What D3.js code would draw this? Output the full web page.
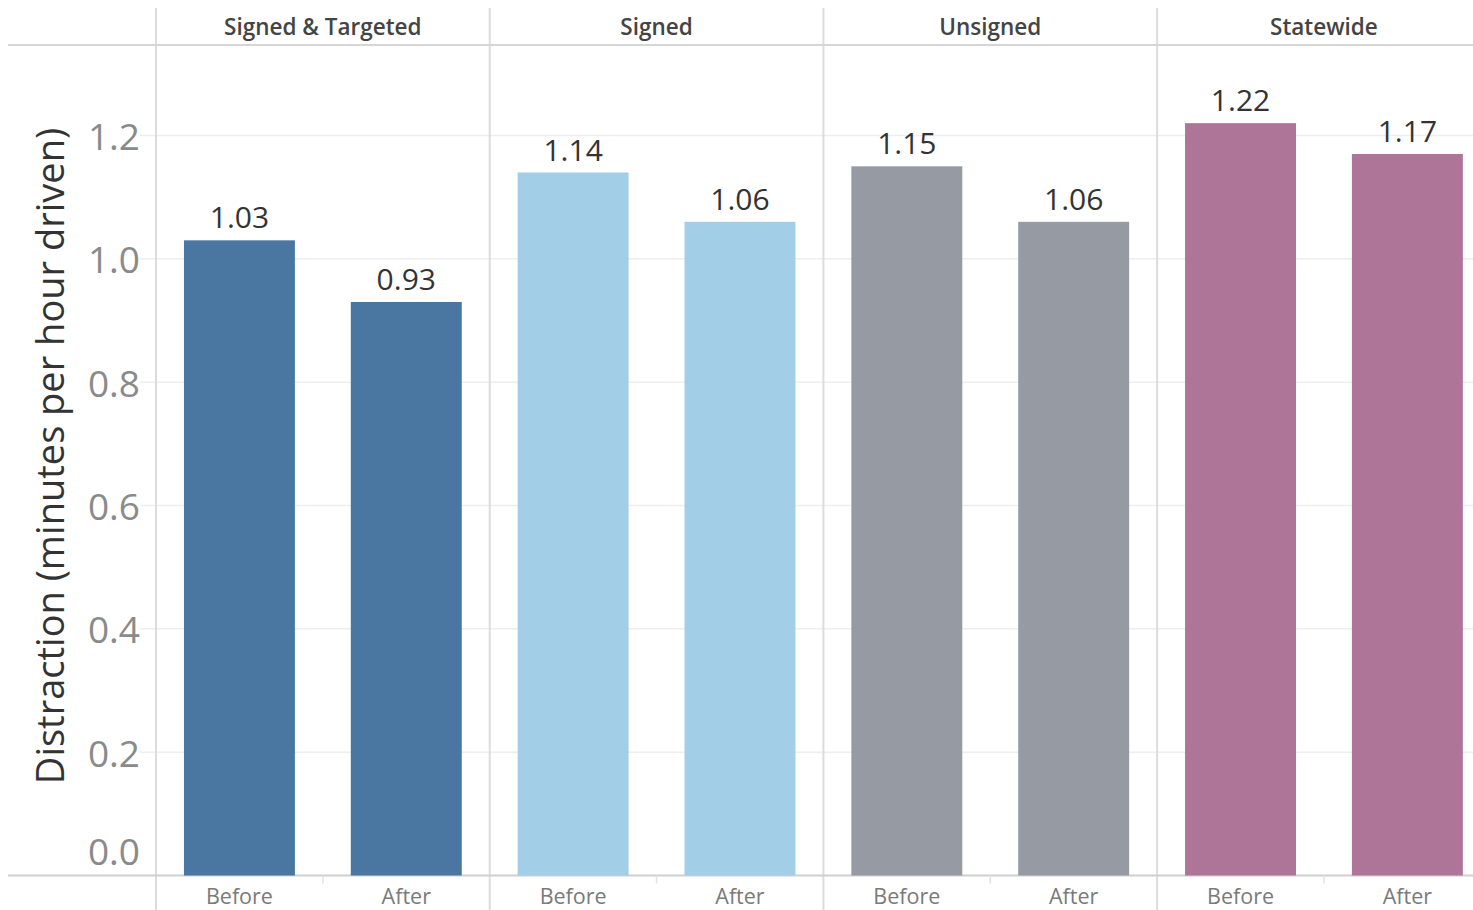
<html>
<head>
<title>Distraction before and after</title>
<script src="https://d3js.org/d3.v7.min.js"></script>
<style>
  body { margin: 0; background: #fff; }
  text { font-family: "Open Sans", sans-serif; }
</style>
</head>
<body>
<svg id="chart" width="1473" height="910"></svg>
<script>
// data
var groups = ["Signed & Targeted", "Signed", "Unsigned", "Statewide"];
var periods = ["Before", "After"];
var before = [1.03, 1.14, 1.15, 1.22];
var after = [0.93, 1.06, 1.06, 1.17];
var colors = ["#4a77a2", "#a3cee8", "#969ba3", "#ae7599"];
var yTicks = [0, 0.2, 0.4, 0.6, 0.8, 1.0, 1.2];

var rows = [];
groups.forEach(function (g, i) {
  rows.push({group: g, period: "Before", value: before[i], color: colors[i]});
  rows.push({group: g, period: "After", value: after[i], color: colors[i]});
});

var svg = d3.select("#chart");
var plotLeft = 156, headerY = 45, base = 875.5;

var x0 = d3.scaleBand().domain(groups).range([plotLeft, plotLeft + 4 * 333.7]);
var x1 = d3.scaleBand().domain(periods).range([0, x0.bandwidth()]).paddingInner(0.335).paddingOuter(0.1675);
var y = d3.scaleLinear().domain([0, 1.2]).range([base, base - 740]);

// gridlines
svg.append("g").selectAll("line")
  .data(yTicks.filter(function (d) { return d > 0; }))
  .enter().append("line")
    .attr("x1", 140).attr("x2", 1473)
    .attr("y1", function (d) { return y(d); })
    .attr("y2", function (d) { return y(d); })
    .attr("stroke", "#eeeeee").attr("stroke-width", 1.5);

// panel separators
svg.append("g").selectAll("line")
  .data(groups)
  .enter().append("line")
    .attr("x1", function (d) { return x0(d); })
    .attr("x2", function (d) { return x0(d); })
    .attr("y1", 8).attr("y2", 910)
    .attr("stroke", "#dcdcdc").attr("stroke-width", 2);

// header + baseline rules
svg.append("line").attr("x1", 8).attr("x2", 1473).attr("y1", headerY).attr("y2", headerY)
  .attr("stroke", "#d6d6d6").attr("stroke-width", 2);
svg.append("line").attr("x1", 8).attr("x2", 1473).attr("y1", base).attr("y2", base)
  .attr("stroke", "#cfcfcf").attr("stroke-width", 2);

// small ticks between Before / After
svg.append("g").selectAll("line")
  .data(groups)
  .enter().append("line")
    .attr("x1", function (d) { return x0(d) + x0.bandwidth() / 2; })
    .attr("x2", function (d) { return x0(d) + x0.bandwidth() / 2; })
    .attr("y1", base).attr("y2", base + 8)
    .attr("stroke", "#e3e3e3").attr("stroke-width", 1.5);

// bars
var g = svg.append("g");
g.selectAll("rect")
  .data(rows)
  .enter().append("rect")
    .attr("x", function (d) { return x0(d.group) + x1(d.period); })
    .attr("width", x1.bandwidth())
    .attr("y", function (d) { return y(d.value); })
    .attr("height", function (d) { return base - y(d.value); })
    .attr("fill", function (d) { return d.color; });

// value labels
g.selectAll(".val")
  .data(rows)
  .enter().append("text")
    .attr("class", "val")
    .attr("x", function (d) { return x0(d.group) + x1(d.period) + x1.bandwidth() / 2; })
    .attr("y", function (d) { return y(d.value) - 12; })
    .attr("text-anchor", "middle")
    .attr("font-size", 30)
    .attr("fill", "#333")
    .text(function (d) { return d.value.toFixed(2); });

// period labels
g.selectAll(".per")
  .data(rows)
  .enter().append("text")
    .attr("class", "per")
    .attr("x", function (d) { return x0(d.group) + x1(d.period) + x1.bandwidth() / 2; })
    .attr("y", 904)
    .attr("text-anchor", "middle")
    .attr("font-size", 21.5)
    .attr("fill", "#7a7a7a")
    .text(function (d) { return d.period; });

// headers
svg.append("g").selectAll("text")
  .data(groups)
  .enter().append("text")
    .attr("x", function (d) { return x0(d) + x0.bandwidth() / 2; })
    .attr("y", 35)
    .attr("text-anchor", "middle")
    .attr("font-size", 22.5)
    .attr("font-weight", 600)
    .attr("fill", "#444")
    .text(function (d) { return d; });

// y axis
var ax = svg.append("g")
  .attr("transform", "translate(" + plotLeft + ",0)")
  .call(d3.axisLeft(y).tickValues(yTicks).tickFormat(d3.format(".1f")).tickSize(0).tickPadding(16));
ax.select(".domain").remove();
ax.selectAll("text")
  .attr("font-family", "'Open Sans', sans-serif")
  .attr("font-size", 37)
  .attr("fill", "#8a8a8a")
  .attr("dy", function (d) { return d === 0 ? "-0.3em" : "0.38em"; });

svg.append("text")
  .attr("transform", "translate(64,456) rotate(-90)")
  .attr("text-anchor", "middle")
  .attr("font-size", 38)
  .attr("fill", "#333")
  .text("Distraction (minutes per hour driven)");
</script>
</body>
</html>
